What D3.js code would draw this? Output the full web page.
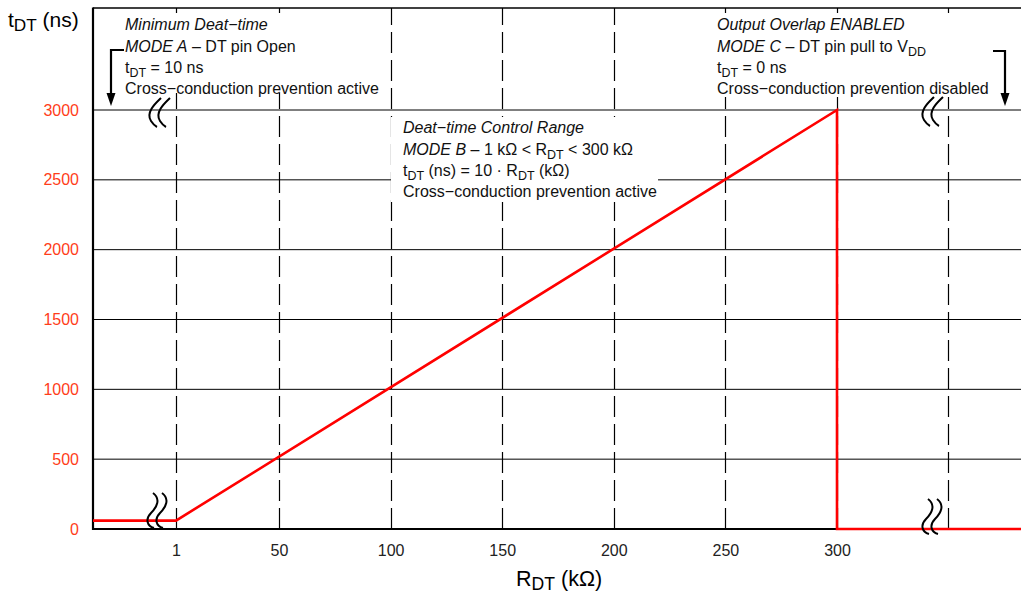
<!DOCTYPE html>
<html>
<head>
<meta charset="utf-8">
<script src="https://cdn.jsdelivr.net/npm/d3@7"></script>
<style>
  html, body { margin: 0; padding: 0; background: #fff; }
  svg { display: block; font-family: "Liberation Sans", Arial, Helvetica, sans-serif; }
</style>
</head>
<body>
<svg id="chart" width="1021" height="595"></svg>
<script>
// ---------------- data ----------------
const rDomain = [-39, 1, 50, 300, 383];          // x-axis breakpoints (kΩ), axis is broken at 1
const rTicks = [1, 50, 100, 150, 200, 250, 300]; // labelled x ticks
const rGridExtra = [350];                         // unlabelled dashed grid line beyond the break
const tTicks = [0, 500, 1000, 1500, 2000, 2500, 3000];
const curveR = [-39, 1, 300, 300, 383];
const curveT = [60, 60, 3000, 0, 0];

// ---------------- layout ----------------
const W = 1021, H = 595;
const plot = { left: 93, right: 1021, top: 8, bottom: 529 };
const svg = d3.select("#chart");

const x = d3.scaleLinear().domain(rDomain)
  .range([plot.left, 176, 279, 837, plot.right]);
const y = d3.scaleLinear().domain([0, 3000]).range([plot.bottom, 110]);

const tickColor = "#ff3d1a";
const fs = 16;

// horizontal grid
svg.append("g").selectAll("line").data(tTicks.filter(d => d > 0)).join("line")
  .attr("x1", plot.left).attr("x2", plot.right)
  .attr("y1", d => y(d)).attr("y2", d => y(d))
  .attr("stroke", "#000").attr("stroke-width", 1);

// vertical dashed grid
svg.append("g").selectAll("line").data(rTicks.concat(rGridExtra)).join("line")
  .attr("x1", d => Math.round(x(d)) + 0.5).attr("x2", d => Math.round(x(d)) + 0.5)
  .attr("y1", plot.bottom).attr("y2", plot.top)
  .attr("stroke", "#000").attr("stroke-width", 1.2)
  .attr("stroke-dasharray", "21,7");

// top border
svg.append("line").attr("x1", plot.left).attr("x2", plot.right)
  .attr("y1", plot.top).attr("y2", plot.top).attr("stroke", "#000").attr("stroke-width", 1.3);

// axes
const yAxis = d3.axisLeft(y).tickValues(tTicks).tickSize(0).tickPadding(14).tickFormat(d3.format("d"));
const gy = svg.append("g").attr("transform", `translate(${plot.left},0)`).call(yAxis);
gy.select(".domain").remove();
gy.selectAll("text").attr("fill", tickColor).attr("font-size", fs).attr("font-family", "Liberation Sans, Arial, sans-serif");

const xAxis = d3.axisBottom(x).tickValues(rTicks).tickSize(0).tickPadding(16).tickFormat(d3.format("d"));
const gx = svg.append("g").attr("transform", `translate(0,${plot.bottom})`).call(xAxis);
gx.select(".domain").remove();
gx.selectAll("text").attr("fill", "#222").attr("font-size", fs).attr("font-family", "Liberation Sans, Arial, sans-serif");

svg.append("line").attr("x1", plot.left).attr("x2", plot.right)
  .attr("y1", plot.bottom).attr("y2", plot.bottom).attr("stroke", "#000").attr("stroke-width", 2);
svg.append("line").attr("x1", plot.left).attr("x2", plot.left)
  .attr("y1", plot.top - 0.6).attr("y2", plot.bottom + 1).attr("stroke", "#000").attr("stroke-width", 2.2);

// ---------------- rich text helper ----------------
function rich(g, x0, y0, segs, size, subRatio, subShift) {
  const sr = subRatio || 0.78;
  const t = g.append("text").attr("x", x0).attr("y", y0).attr("font-size", size).attr("fill", "#111");
  let shifted = 0;
  const shift = subShift !== undefined ? subShift : Math.round(size * 0.25);
  segs.forEach(s => {
    const [txt, mode] = s;
    const sp = t.append("tspan").text(txt);
    if (mode === "sub") {
      sp.attr("font-size", size * sr).attr("dy", shift - shifted);
      shifted = shift;
    } else {
      if (shifted) { sp.attr("dy", -shifted); shifted = 0; }
      if (mode === "i") sp.attr("font-style", "italic");
    }
  });
  return t;
}

function block(x0, baselines, lines, pad) {
  const g = svg.append("g");
  const bg = g.append("rect").attr("fill", "#fff");
  const tg = g.append("g");
  lines.forEach((segs, i) => rich(tg, x0, baselines[i], segs, fs));
  const bb = tg.node().getBBox();
  bg.attr("x", bb.x - pad[3]).attr("y", bb.y - pad[0])
    .attr("width", bb.width + pad[1] + pad[3]).attr("height", bb.height + pad[0] + pad[2]);
  return g;
}

// ---------------- red curve ----------------
const pts = curveR.map((r, i) => [x(r), y(curveT[i])]);
svg.append("path").attr("d", d3.line()(pts))
  .attr("fill", "none").attr("stroke", "#ff0000").attr("stroke-width", 2.6)
  .attr("stroke-linejoin", "miter");

// ---------------- annotations ----------------
block(125, [30, 52, 73, 94], [
  [["Minimum Deat−time", "i"]],
  [["MODE A", "i"], [" – DT pin Open"]],
  [["t"], ["DT", "sub"], [" = 10 ns"]],
  [["Cross−conduction prevention active"]]
], [3, 3, -4, 4]);

block(403, [133, 155, 176, 197], [
  [["Deat−time Control Range", "i"]],
  [["MODE B", "i"], [" – 1 kΩ < R"], ["DT", "sub"], [" < 300 kΩ"]],
  [["t"], ["DT", "sub"], [" (ns) = 10 · R"], ["DT", "sub"], [" (kΩ)"]],
  [["Cross−conduction prevention active"]]
], [2, 1, 2, 12]);

block(717, [30, 52, 73, 94], [
  [["Output Overlap ENABLED", "i"]],
  [["MODE C", "i"], [" – DT pin pull to V"], ["DD", "sub"]],
  [["t"], ["DT", "sub"], [" = 0 ns"]],
  [["Cross−conduction prevention disabled"]]
], [3, 3, 0, 3]);

// arrows
function arrow(d, tipX, tipY) {
  svg.append("path").attr("d", d).attr("fill", "none").attr("stroke", "#000").attr("stroke-width", 2.2);
  svg.append("path").attr("d", `M${tipX - 4.5},${tipY - 13} L${tipX + 4.5},${tipY - 13} L${tipX},${tipY} Z`).attr("fill", "#000");
}
arrow("M124,50 H111 V95", 111, 106);
arrow("M993,51 H1005 V95", 1005, 106);

// squiggles (axis-break marks)
function sCurve(cx, top) {
  const g = svg.append("g").attr("fill", "none").attr("stroke", "#000").attr("stroke-width", 2);
  [0, 9].forEach(dx => {
    g.append("path").attr("d",
      `M${cx + dx + 4},${top} C${cx + dx + 12},${top + 6} ${cx + dx + 8},${top + 14} ${cx + dx + 2},${top + 20} ` +
      `C${cx + dx - 4},${top + 26} ${cx + dx - 2},${top + 33} ${cx + dx + 5},${top + 35}`);
  });
}
function cCurve(cx, top) {
  const g = svg.append("g").attr("fill", "none").attr("stroke", "#000").attr("stroke-width", 2);
  [0, 9].forEach(dx => {
    g.append("path").attr("d",
      `M${cx + dx + 8},${top} C${cx + dx + 4},${top + 4} ${cx + dx - 8},${top + 14} ${cx + dx - 2},${top + 23} ` +
      `C${cx + dx},${top + 26} ${cx + dx + 2},${top + 28} ${cx + dx + 4},${top + 29}`);
  });
}
sCurve(149, 493);
sCurve(924, 499);
cCurve(153, 98);
cCurve(926, 97);

// axis titles
rich(svg, 8, 27, [["t"], ["DT", "sub"], [" (ns)"]], 21, 0.82, 4).attr("fill", "#000");
rich(svg, 516, 586, [["R"], ["DT", "sub"], [" (kΩ)"]], 21.5, 0.82, 4).attr("fill", "#000");
</script>
</body>
</html>
